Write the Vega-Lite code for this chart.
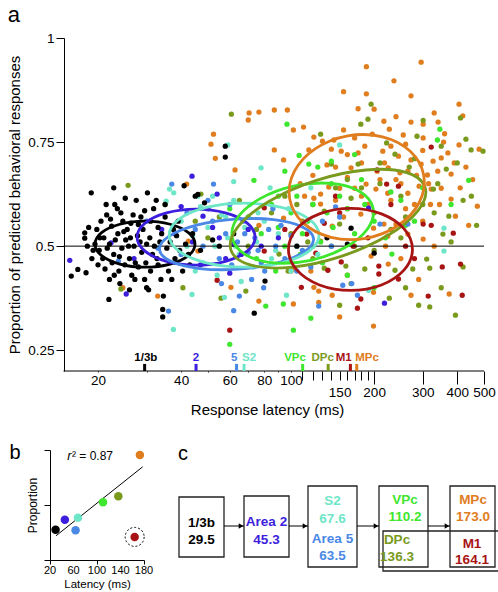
{
"$schema":"https://vega.github.io/schema/vega-lite/v6.json",
"padding":{"left":7,"top":4,"right":0,"bottom":0},
"background":"white",
"config":{"view":{"stroke":null},"font":"Liberation Sans","axis":{"domainColor":"#000","tickColor":"#000","labelColor":"#000","titleColor":"#000","grid":false,"titleFontWeight":"normal","labelOverlap":false},"title":{"color":"#000"}},
"datasets":{
"pts":[
{"g":"MPc","x":187.5,"y":0.931},{"g":"MPc","x":296,"y":0.942},{"g":"MPc","x":236,"y":0.897},{"g":"MPc","x":155,"y":0.871},{"g":"MPc","x":187.5,"y":0.866},{"g":"MPc","x":272,"y":0.861},{"g":"MPc","x":406,"y":0.841},{"g":"MPc","x":419,"y":0.813},{"g":"MPc","x":76.5,"y":0.822},{"g":"MPc","x":87,"y":0.827},{"g":"MPc","x":97,"y":0.827},{"g":"MPc","x":175,"y":0.83},{"g":"MPc","x":200,"y":0.829},{"g":"MPc","x":240,"y":0.811},{"g":"MPc","x":272,"y":0.798},{"g":"MPc","x":301,"y":0.793},{"g":"MPc","x":341,"y":0.798},{"g":"MPc","x":217,"y":0.8},{"g":"MPc","x":111,"y":0.786},{"g":"MPc","x":102,"y":0.779},{"g":"MPc","x":121,"y":0.762},{"g":"MPc","x":130,"y":0.752},{"g":"MPc","x":143,"y":0.755},{"g":"MPc","x":155,"y":0.779},{"g":"MPc","x":170,"y":0.76},{"g":"MPc","x":197,"y":0.769},{"g":"MPc","x":227,"y":0.781},{"g":"MPc","x":255,"y":0.767},{"g":"MPc","x":301,"y":0.76},{"g":"MPc","x":357,"y":0.75},{"g":"MPc","x":406,"y":0.743},{"g":"MPc","x":480,"y":0.733},{"g":"MPc","x":87,"y":0.731},{"g":"MPc","x":94,"y":0.707},{"g":"MPc","x":116,"y":0.731},{"g":"MPc","x":140,"y":0.733},{"g":"MPc","x":152,"y":0.728},{"g":"MPc","x":175,"y":0.724},{"g":"MPc","x":215,"y":0.728},{"g":"MPc","x":245,"y":0.716},{"g":"MPc","x":272,"y":0.707},{"g":"MPc","x":296,"y":0.697},{"g":"MPc","x":327,"y":0.704},{"g":"MPc","x":350,"y":0.712},{"g":"MPc","x":370,"y":0.724},{"g":"MPc","x":135,"y":0.695},{"g":"MPc","x":165,"y":0.688},{"g":"MPc","x":218,"y":0.7},{"g":"MPc","x":225,"y":0.688},{"g":"MPc","x":248,"y":0.676},{"g":"MPc","x":265,"y":0.68},{"g":"MPc","x":312,"y":0.671},{"g":"MPc","x":340,"y":0.68},{"g":"MPc","x":380,"y":0.673},{"g":"MPc","x":137,"y":0.642},{"g":"MPc","x":150,"y":0.639},{"g":"MPc","x":170,"y":0.639},{"g":"MPc","x":187,"y":0.649},{"g":"MPc","x":203,"y":0.637},{"g":"MPc","x":224,"y":0.627},{"g":"MPc","x":265,"y":0.627},{"g":"MPc","x":291,"y":0.644},{"g":"MPc","x":322,"y":0.637},{"g":"MPc","x":350,"y":0.639},{"g":"MPc","x":112,"y":0.62},{"g":"MPc","x":128,"y":0.625},{"g":"MPc","x":121,"y":0.615},{"g":"MPc","x":128,"y":0.601},{"g":"MPc","x":141,"y":0.548},{"g":"MPc","x":179,"y":0.577},{"g":"MPc","x":199,"y":0.543},{"g":"MPc","x":217,"y":0.553},{"g":"MPc","x":240,"y":0.553},{"g":"MPc","x":224,"y":0.524},{"g":"MPc","x":265,"y":0.529},{"g":"MPc","x":301,"y":0.517},{"g":"MPc","x":380,"y":0.613},{"g":"MPc","x":394,"y":0.572},{"g":"MPc","x":473,"y":0.596},{"g":"MPc","x":76.5,"y":0.368},{"g":"MPc","x":102,"y":0.361},{"g":"MPc","x":126,"y":0.365},{"g":"MPc","x":141,"y":0.382},{"g":"MPc","x":126,"y":0.392},{"g":"MPc","x":121,"y":0.401},{"g":"MPc","x":199,"y":0.389},{"g":"MPc","x":199,"y":0.308},{"g":"MPc","x":272,"y":0.382},{"g":"MPc","x":374,"y":0.385},{"g":"MPc","x":225,"y":0.457},{"g":"MPc","x":118,"y":0.44},{"g":"MPc","x":100,"y":0.44},{"g":"MPc","x":76.5,"y":0.55},{"g":"MPc","x":94,"y":0.567},{"g":"MPc","x":102,"y":0.445},{"g":"MPc","x":128,"y":0.512},{"g":"MPc","x":195,"y":0.476},{"g":"MPc","x":24.6,"y":0.4},{"g":"MPc","x":32.9,"y":0.38},{"g":"MPc","x":41.9,"y":0.649},{"g":"MPc","x":46,"y":0.488},{"g":"MPc","x":60.6,"y":0.401},{"g":"MPc","x":51.3,"y":0.745},{"g":"MPc","x":52.4,"y":0.769},{"g":"MPc","x":53.2,"y":0.711},{"g":"MPc","x":62.7,"y":0.683},{"g":"MPc","x":70,"y":0.803},{"g":"MPc","x":70.5,"y":0.82},{"g":"MPc","x":42.5,"y":0.512},{"g":"MPc","x":160,"y":0.665},{"g":"MPc","x":180,"y":0.7},{"g":"MPc","x":210,"y":0.66},{"g":"MPc","x":230,"y":0.61},{"g":"MPc","x":250,"y":0.65},{"g":"MPc","x":190,"y":0.6},{"g":"MPc","x":160,"y":0.59},{"g":"MPc","x":145,"y":0.61},{"g":"MPc","x":280,"y":0.6},{"g":"MPc","x":320,"y":0.6},
{"g":"MPc","x":330,"y":0.82},{"g":"MPc","x":360,"y":0.77},{"g":"MPc","x":390,"y":0.7},{"g":"MPc","x":430,"y":0.69},{"g":"MPc","x":455,"y":0.66},{"g":"MPc","x":410,"y":0.64},{"g":"MPc","x":300,"y":0.73},{"g":"MPc","x":260,"y":0.745},{"g":"MPc","x":230,"y":0.74},{"g":"MPc","x":185,"y":0.74},{"g":"MPc","x":160,"y":0.72},{"g":"MPc","x":145,"y":0.69},{"g":"MPc","x":120,"y":0.67},{"g":"MPc","x":108,"y":0.65},{"g":"MPc","x":205,"y":0.68},{"g":"MPc","x":240,"y":0.66},{"g":"MPc","x":285,"y":0.67},{"g":"MPc","x":315,"y":0.65},{"g":"MPc","x":345,"y":0.6},{"g":"MPc","x":300,"y":0.56},{"g":"MPc","x":260,"y":0.59},{"g":"MPc","x":180,"y":0.62},{"g":"MPc","x":155,"y":0.57},{"g":"MPc","x":220,"y":0.5},{"g":"MPc","x":250,"y":0.47},{"g":"MPc","x":330,"y":0.5},{"g":"MPc","x":440,"y":0.55},{"g":"MPc","x":160,"y":0.43},{"g":"MPc","x":290,"y":0.42},{"g":"MPc","x":150,"y":0.33},
{"g":"DPc","x":60.8,"y":0.817},{"g":"DPc","x":25.7,"y":0.646},{"g":"DPc","x":47.2,"y":0.625},{"g":"DPc","x":195,"y":0.841},{"g":"DPc","x":190,"y":0.805},{"g":"DPc","x":411,"y":0.808},{"g":"DPc","x":301,"y":0.802},{"g":"DPc","x":179,"y":0.793},{"g":"DPc","x":128,"y":0.769},{"g":"DPc","x":286,"y":0.764},{"g":"DPc","x":430,"y":0.757},{"g":"DPc","x":496,"y":0.728},{"g":"DPc","x":449,"y":0.731},{"g":"DPc","x":222,"y":0.748},{"g":"DPc","x":238,"y":0.721},{"g":"DPc","x":140,"y":0.697},{"g":"DPc","x":175,"y":0.697},{"g":"DPc","x":268,"y":0.69},{"g":"DPc","x":328,"y":0.637},{"g":"DPc","x":365,"y":0.685},{"g":"DPc","x":250,"y":0.62},{"g":"DPc","x":90.5,"y":0.481},{"g":"DPc","x":97.6,"y":0.44},{"g":"DPc","x":132,"y":0.447},{"g":"DPc","x":150,"y":0.358},{"g":"DPc","x":158,"y":0.452},{"g":"DPc","x":185,"y":0.445},{"g":"DPc","x":238,"y":0.442},{"g":"DPc","x":276,"y":0.445},{"g":"DPc","x":310,"y":0.469},{"g":"DPc","x":318,"y":0.447},{"g":"DPc","x":227,"y":0.375},{"g":"DPc","x":290,"y":0.358},{"g":"DPc","x":318,"y":0.354},{"g":"DPc","x":394,"y":0.334},{"g":"DPc","x":355,"y":0.529},{"g":"DPc","x":380,"y":0.51},{"g":"DPc","x":373,"y":0.572},{"g":"DPc","x":150,"y":0.553},{"g":"DPc","x":165,"y":0.615},{"g":"DPc","x":132,"y":0.584},{"g":"DPc","x":24.2,"y":0.397},{"g":"DPc","x":40.6,"y":0.4},{"g":"DPc","x":55.8,"y":0.375},{"g":"DPc","x":68.6,"y":0.392},{"g":"DPc","x":110,"y":0.56},{"g":"DPc","x":120,"y":0.6},{"g":"DPc","x":100,"y":0.53},{"g":"DPc","x":115,"y":0.51},{"g":"DPc","x":145,"y":0.64},{"g":"DPc","x":160,"y":0.66},{"g":"DPc","x":200,"y":0.58},{"g":"DPc","x":210,"y":0.65},{"g":"DPc","x":230,"y":0.54},{"g":"DPc","x":260,"y":0.57},{"g":"DPc","x":85,"y":0.58},{"g":"DPc","x":75,"y":0.54},{"g":"DPc","x":65,"y":0.61},{"g":"DPc","x":55,"y":0.57},{"g":"DPc","x":50,"y":0.52},{"g":"DPc","x":95,"y":0.62},{"g":"DPc","x":170,"y":0.5},{"g":"DPc","x":140,"y":0.5},{"g":"DPc","x":120,"y":0.47},{"g":"DPc","x":300,"y":0.6},{"g":"DPc","x":330,"y":0.58},{"g":"DPc","x":420,"y":0.61},
{"g":"DPc","x":350,"y":0.74},{"g":"DPc","x":400,"y":0.7},{"g":"DPc","x":450,"y":0.62},{"g":"DPc","x":470,"y":0.55},{"g":"DPc","x":340,"y":0.65},{"g":"DPc","x":280,"y":0.71},{"g":"DPc","x":210,"y":0.7},{"g":"DPc","x":180,"y":0.64},{"g":"DPc","x":250,"y":0.52},{"g":"DPc","x":200,"y":0.49},{"g":"DPc","x":165,"y":0.41},{"g":"DPc","x":260,"y":0.4},{"g":"DPc","x":350,"y":0.4},{"g":"DPc","x":420,"y":0.45},{"g":"DPc","x":105,"y":0.6},{"g":"DPc","x":70,"y":0.5},{"g":"DPc","x":45,"y":0.56},{"g":"DPc","x":35,"y":0.6},
{"g":"M1","x":205,"y":0.683},{"g":"M1","x":222,"y":0.649},{"g":"M1","x":245,"y":0.644},{"g":"M1","x":322,"y":0.738},{"g":"M1","x":80,"y":0.592},{"g":"M1","x":109,"y":0.401},{"g":"M1","x":208,"y":0.452},{"g":"M1","x":208,"y":0.433},{"g":"M1","x":245,"y":0.421},{"g":"M1","x":179,"y":0.373},{"g":"M1","x":174,"y":0.351},{"g":"M1","x":314,"y":0.38},{"g":"M1","x":417,"y":0.382},{"g":"M1","x":411,"y":0.457},{"g":"M1","x":353,"y":0.45},{"g":"M1","x":387,"y":0.531},{"g":"M1","x":301,"y":0.553},{"g":"M1","x":322,"y":0.55},{"g":"M1","x":123,"y":0.483},{"g":"M1","x":136,"y":0.442},{"g":"M1","x":152,"y":0.462},{"g":"M1","x":132,"y":0.555},{"g":"M1","x":114,"y":0.529},{"g":"M1","x":168,"y":0.5},{"g":"M1","x":80,"y":0.488},{"g":"M1","x":60,"y":0.298},{"g":"M1","x":54,"y":0.418},{"g":"M1","x":150,"y":0.58},{"g":"M1","x":190,"y":0.52},{"g":"M1","x":260,"y":0.5},{"g":"M1","x":95,"y":0.54},{"g":"M1","x":145,"y":0.62},{"g":"M1","x":230,"y":0.6},{"g":"M1","x":280,"y":0.47},
{"g":"VPc","x":60,"y":0.264},{"g":"VPc","x":102,"y":0.298},{"g":"VPc","x":118,"y":0.327},{"g":"VPc","x":81,"y":0.356},{"g":"VPc","x":96.7,"y":0.793},{"g":"VPc","x":346,"y":0.781},{"g":"VPc","x":339,"y":0.755},{"g":"VPc","x":107,"y":0.718},{"g":"VPc","x":116,"y":0.697},{"g":"VPc","x":140,"y":0.704},{"g":"VPc","x":440,"y":0.658},{"g":"VPc","x":73.4,"y":0.658},{"g":"VPc","x":93.8,"y":0.361},{"g":"VPc","x":232,"y":0.481},{"g":"VPc","x":70,"y":0.57},{"g":"VPc","x":78,"y":0.53},{"g":"VPc","x":85,"y":0.6},{"g":"VPc","x":90,"y":0.545},{"g":"VPc","x":95,"y":0.5},{"g":"VPc","x":100,"y":0.58},{"g":"VPc","x":105,"y":0.62},{"g":"VPc","x":110,"y":0.53},{"g":"VPc","x":115,"y":0.56},{"g":"VPc","x":120,"y":0.6},{"g":"VPc","x":128,"y":0.51},{"g":"VPc","x":135,"y":0.58},{"g":"VPc","x":142,"y":0.545},{"g":"VPc","x":150,"y":0.62},{"g":"VPc","x":160,"y":0.59},{"g":"VPc","x":170,"y":0.53},{"g":"VPc","x":185,"y":0.6},{"g":"VPc","x":200,"y":0.56},{"g":"VPc","x":220,"y":0.52},{"g":"VPc","x":250,"y":0.61},{"g":"VPc","x":280,"y":0.56},{"g":"VPc","x":300,"y":0.64},{"g":"VPc","x":65,"y":0.48},{"g":"VPc","x":75,"y":0.47},{"g":"VPc","x":88,"y":0.44},{"g":"VPc","x":130,"y":0.46},{"g":"VPc","x":160,"y":0.43},{"g":"VPc","x":200,"y":0.4},{"g":"VPc","x":140,"y":0.65},{"g":"VPc","x":60,"y":0.59},{"g":"VPc","x":108,"y":0.48},{"g":"VPc","x":125,"y":0.69},{"g":"VPc","x":180,"y":0.66},{"g":"VPc","x":230,"y":0.63},{"g":"VPc","x":260,"y":0.55},{"g":"VPc","x":90,"y":0.62},{"g":"VPc","x":120,"y":0.5},{"g":"VPc","x":95,"y":0.68},{"g":"VPc","x":380,"y":0.6},{"g":"VPc","x":170,"y":0.72},
{"g":"S2","x":59,"y":0.743},{"g":"S2","x":36.3,"y":0.637},{"g":"S2","x":37.6,"y":0.628},{"g":"S2","x":37.5,"y":0.3},{"g":"S2","x":43.8,"y":0.384},{"g":"S2","x":57.4,"y":0.377},{"g":"S2","x":35.3,"y":0.608},{"g":"S2","x":96.3,"y":0.382},{"g":"S2","x":358,"y":0.543},{"g":"S2","x":358,"y":0.488},{"g":"S2","x":191,"y":0.394},{"g":"S2","x":77.9,"y":0.688},{"g":"S2","x":118,"y":0.64},{"g":"S2","x":150,"y":0.743},{"g":"S2","x":40,"y":0.56},{"g":"S2","x":44,"y":0.525},{"g":"S2","x":47,"y":0.595},{"g":"S2","x":50,"y":0.545},{"g":"S2","x":53,"y":0.5},{"g":"S2","x":56,"y":0.575},{"g":"S2","x":59,"y":0.52},{"g":"S2","x":62,"y":0.61},{"g":"S2","x":65,"y":0.48},{"g":"S2","x":68,"y":0.545},{"g":"S2","x":71,"y":0.6},{"g":"S2","x":75,"y":0.51},{"g":"S2","x":80,"y":0.56},{"g":"S2","x":85,"y":0.47},{"g":"S2","x":90,"y":0.53},{"g":"S2","x":98,"y":0.59},{"g":"S2","x":105,"y":0.5},{"g":"S2","x":112,"y":0.555},{"g":"S2","x":125,"y":0.48},{"g":"S2","x":48,"y":0.46},{"g":"S2","x":54,"y":0.43},{"g":"S2","x":66,"y":0.415},{"g":"S2","x":73,"y":0.45},{"g":"S2","x":62,"y":0.655},{"g":"S2","x":84,"y":0.64},{"g":"S2","x":42,"y":0.5},{"g":"S2","x":46,"y":0.62},{"g":"S2","x":100,"y":0.44},{"g":"S2","x":58,"y":0.57},{"g":"S2","x":76,"y":0.58},{"g":"S2","x":52,"y":0.62},{"g":"S2","x":88,"y":0.49},{"g":"S2","x":63,"y":0.5},{"g":"S2","x":45,"y":0.44},
{"g":"Area 5","x":37,"y":0.649},{"g":"Area 5","x":52.4,"y":0.649},{"g":"Area 5","x":145,"y":0.594},{"g":"Area 5","x":150,"y":0.57},{"g":"Area 5","x":166,"y":0.41},{"g":"Area 5","x":154,"y":0.406},{"g":"Area 5","x":126,"y":0.356},{"g":"Area 5","x":79.6,"y":0.4},{"g":"Area 5","x":80.3,"y":0.44},{"g":"Area 5","x":174,"y":0.382},{"g":"Area 5","x":210,"y":0.553},{"g":"Area 5","x":265,"y":0.553},{"g":"Area 5","x":36,"y":0.344},{"g":"Area 5","x":23.7,"y":0.464},{"g":"Area 5","x":45,"y":0.54},{"g":"Area 5","x":48,"y":0.5},{"g":"Area 5","x":55,"y":0.47},{"g":"Area 5","x":58,"y":0.53},{"g":"Area 5","x":61,"y":0.455},{"g":"Area 5","x":64,"y":0.51},{"g":"Area 5","x":67,"y":0.56},{"g":"Area 5","x":70,"y":0.485},{"g":"Area 5","x":74,"y":0.52},{"g":"Area 5","x":78,"y":0.46},{"g":"Area 5","x":83,"y":0.54},{"g":"Area 5","x":88,"y":0.5},{"g":"Area 5","x":95,"y":0.47},{"g":"Area 5","x":100,"y":0.525},{"g":"Area 5","x":110,"y":0.49},{"g":"Area 5","x":118,"y":0.45},{"g":"Area 5","x":40,"y":0.48},{"g":"Area 5","x":42,"y":0.58},{"g":"Area 5","x":50,"y":0.61},{"g":"Area 5","x":60,"y":0.6},{"g":"Area 5","x":56,"y":0.41},{"g":"Area 5","x":65,"y":0.38},{"g":"Area 5","x":72,"y":0.42},{"g":"Area 5","x":86,"y":0.59},{"g":"Area 5","x":30,"y":0.56},{"g":"Area 5","x":33,"y":0.495},{"g":"Area 5","x":130,"y":0.56},{"g":"Area 5","x":62,"y":0.345},{"g":"Area 5","x":52,"y":0.56},{"g":"Area 5","x":68,"y":0.53},{"g":"Area 5","x":92,"y":0.55},{"g":"Area 5","x":105,"y":0.44},{"g":"Area 5","x":76,"y":0.49},{"g":"Area 5","x":140,"y":0.5},
{"g":"Area 2","x":43.8,"y":0.668},{"g":"Area 2","x":15.8,"y":0.466},{"g":"Area 2","x":25.3,"y":0.385},{"g":"Area 2","x":22.3,"y":0.508},{"g":"Area 2","x":40,"y":0.595},{"g":"Area 2","x":48,"y":0.572},{"g":"Area 2","x":52,"y":0.545},{"g":"Area 2","x":55,"y":0.52},{"g":"Area 2","x":58,"y":0.47},{"g":"Area 2","x":62,"y":0.505},{"g":"Area 2","x":66,"y":0.48},{"g":"Area 2","x":70,"y":0.54},{"g":"Area 2","x":44,"y":0.51},{"g":"Area 2","x":47,"y":0.455},{"g":"Area 2","x":50,"y":0.59},{"g":"Area 2","x":38,"y":0.53},{"g":"Area 2","x":78,"y":0.5},{"g":"Area 2","x":90,"y":0.52},{"g":"Area 2","x":218,"y":0.363},{"g":"Area 2","x":191,"y":0.591},{"g":"Area 2","x":60,"y":0.435},{"g":"Area 2","x":34,"y":0.54},{"g":"Area 2","x":27,"y":0.47},{"g":"Area 2","x":54,"y":0.625},
{"g":"1/3b","x":18.9,"y":0.628},{"g":"1/3b","x":22.8,"y":0.64},{"g":"1/3b","x":30.2,"y":0.628},{"g":"1/3b","x":46,"y":0.624},{"g":"1/3b","x":48.6,"y":0.604},{"g":"1/3b","x":57.8,"y":0.714},{"g":"1/3b","x":57.8,"y":0.74},{"g":"1/3b","x":17.9,"y":0.532},{"g":"1/3b","x":17.9,"y":0.519},{"g":"1/3b","x":16,"y":0.428},{"g":"1/3b","x":16.9,"y":0.444},{"g":"1/3b","x":18.1,"y":0.436},{"g":"1/3b","x":21.9,"y":0.372},{"g":"1/3b","x":34.3,"y":0.348},{"g":"1/3b","x":34.3,"y":0.33},{"g":"1/3b","x":34.5,"y":0.38},{"g":"1/3b","x":41,"y":0.645},{"g":"1/3b","x":45,"y":0.62},{"g":"1/3b","x":32.5,"y":0.61},{"g":"1/3b","x":20.5,"y":0.56},{"g":"1/3b","x":21.5,"y":0.575},{"g":"1/3b","x":22.4,"y":0.548},{"g":"1/3b","x":23.5,"y":0.59},{"g":"1/3b","x":24.6,"y":0.56},{"g":"1/3b","x":25.5,"y":0.54},{"g":"1/3b","x":26.8,"y":0.575},{"g":"1/3b","x":28,"y":0.552},{"g":"1/3b","x":29.5,"y":0.585},{"g":"1/3b","x":31,"y":0.56},{"g":"1/3b","x":33,"y":0.545},{"g":"1/3b","x":35,"y":0.57},{"g":"1/3b","x":37.5,"y":0.54},{"g":"1/3b","x":39,"y":0.56},{"g":"1/3b","x":19.5,"y":0.505},{"g":"1/3b","x":20.2,"y":0.49},{"g":"1/3b","x":21,"y":0.52},{"g":"1/3b","x":22,"y":0.505},{"g":"1/3b","x":22.8,"y":0.48},{"g":"1/3b","x":23.6,"y":0.53},{"g":"1/3b","x":24.4,"y":0.495},{"g":"1/3b","x":25.2,"y":0.515},{"g":"1/3b","x":26,"y":0.47},{"g":"1/3b","x":27,"y":0.5},{"g":"1/3b","x":27.8,"y":0.525},{"g":"1/3b","x":28.8,"y":0.485},{"g":"1/3b","x":30,"y":0.505},{"g":"1/3b","x":31.5,"y":0.48},{"g":"1/3b","x":33.5,"y":0.51},{"g":"1/3b","x":35.5,"y":0.495},{"g":"1/3b","x":38,"y":0.47},{"g":"1/3b","x":41.5,"y":0.505},{"g":"1/3b","x":44,"y":0.53},{"g":"1/3b","x":19,"y":0.47},{"g":"1/3b","x":20,"y":0.455},{"g":"1/3b","x":21.2,"y":0.445},{"g":"1/3b","x":22.5,"y":0.46},{"g":"1/3b","x":23.8,"y":0.44},{"g":"1/3b","x":25,"y":0.455},{"g":"1/3b","x":26.5,"y":0.43},{"g":"1/3b","x":28,"y":0.45},{"g":"1/3b","x":29.5,"y":0.42},{"g":"1/3b","x":31,"y":0.44},{"g":"1/3b","x":33,"y":0.455},{"g":"1/3b","x":36,"y":0.44},{"g":"1/3b","x":24,"y":0.41},{"g":"1/3b","x":26,"y":0.395},{"g":"1/3b","x":22,"y":0.42},{"g":"1/3b","x":30,"y":0.4},{"g":"1/3b","x":30.5,"y":0.395},{"g":"1/3b","x":37,"y":0.42},{"g":"1/3b","x":43,"y":0.455},{"g":"1/3b","x":47,"y":0.49},{"g":"1/3b","x":52,"y":0.515},{"g":"1/3b","x":23,"y":0.6},{"g":"1/3b","x":27.5,"y":0.61},{"g":"1/3b","x":18.5,"y":0.545},{"g":"1/3b","x":73.6,"y":0.339},{"g":"1/3b","x":80.5,"y":0.416},{"g":"1/3b","x":165,"y":0.543},{"g":"1/3b","x":200,"y":0.483},{"g":"1/3b","x":160,"y":0.505},{"g":"1/3b","x":135,"y":0.52},{"g":"1/3b","x":105,"y":0.5},{"g":"1/3b","x":62,"y":0.53},{"g":"1/3b","x":55,"y":0.5},
{"g":"1/3b","x":19.8,"y":0.54},{"g":"1/3b","x":20.8,"y":0.47},{"g":"1/3b","x":21.6,"y":0.495},{"g":"1/3b","x":22.2,"y":0.565},{"g":"1/3b","x":23.1,"y":0.515},{"g":"1/3b","x":23.9,"y":0.475},{"g":"1/3b","x":24.8,"y":0.535},{"g":"1/3b","x":25.8,"y":0.5},{"g":"1/3b","x":26.3,"y":0.555},{"g":"1/3b","x":27.3,"y":0.46},{"g":"1/3b","x":28.4,"y":0.51},{"g":"1/3b","x":29.1,"y":0.54},{"g":"1/3b","x":30.8,"y":0.52},{"g":"1/3b","x":32,"y":0.5},{"g":"1/3b","x":32.7,"y":0.47},{"g":"1/3b","x":34,"y":0.53},{"g":"1/3b","x":36.5,"y":0.51},{"g":"1/3b","x":39.5,"y":0.49},{"g":"1/3b","x":21.4,"y":0.6},{"g":"1/3b","x":25.1,"y":0.615},{"g":"1/3b","x":19.2,"y":0.49},{"g":"1/3b","x":20.3,"y":0.52},{"g":"1/3b","x":18.3,"y":0.5},{"g":"1/3b","x":24.2,"y":0.58},{"g":"1/3b","x":28.6,"y":0.57},{"g":"1/3b","x":22.9,"y":0.43},{"g":"1/3b","x":27.2,"y":0.42},{"g":"1/3b","x":33.8,"y":0.42},{"g":"1/3b","x":40.5,"y":0.44},{"g":"1/3b","x":35,"y":0.6},{"g":"1/3b","x":31.8,"y":0.59},{"g":"1/3b","x":26.2,"y":0.52},{"g":"1/3b","x":29.8,"y":0.46},{"g":"1/3b","x":38.5,"y":0.525},{"g":"1/3b","x":42.5,"y":0.48}
],
"ell":[
{"g":"1/3b","i":0,"x":44.9,"y":0.5048},{"g":"1/3b","i":1,"x":42.5,"y":0.5325},{"g":"1/3b","i":2,"x":36.5,"y":0.5526},{"g":"1/3b","i":3,"x":29.6,"y":0.5601},{"g":"1/3b","i":4,"x":24.0,"y":0.5526},{"g":"1/3b","i":5,"x":20.6,"y":0.5325},{"g":"1/3b","i":6,"x":19.5,"y":0.5048},{"g":"1/3b","i":7,"x":20.6,"y":0.4772},{"g":"1/3b","i":8,"x":24.0,"y":0.457},{"g":"1/3b","i":9,"x":29.6,"y":0.4495},{"g":"1/3b","i":10,"x":36.5,"y":0.457},{"g":"1/3b","i":11,"x":42.5,"y":0.4772},
{"g":"Area 2","i":0,"x":74.1,"y":0.5216},{"g":"Area 2","i":1,"x":69.4,"y":0.5553},{"g":"Area 2","i":2,"x":57.9,"y":0.5798},{"g":"Area 2","i":3,"x":45.3,"y":0.5889},{"g":"Area 2","i":4,"x":35.4,"y":0.5798},{"g":"Area 2","i":5,"x":29.6,"y":0.5553},{"g":"Area 2","i":6,"x":27.7,"y":0.5216},{"g":"Area 2","i":7,"x":29.6,"y":0.488},{"g":"Area 2","i":8,"x":35.4,"y":0.4635},{"g":"Area 2","i":9,"x":45.3,"y":0.4543},{"g":"Area 2","i":10,"x":57.9,"y":0.4635},{"g":"Area 2","i":11,"x":69.4,"y":0.488},
{"g":"Area 5","i":0,"x":120.7,"y":0.5178},{"g":"Area 5","i":1,"x":109.9,"y":0.5462},{"g":"Area 5","i":2,"x":86.4,"y":0.5635},{"g":"Area 5","i":3,"x":62.6,"y":0.5649},{"g":"Area 5","i":4,"x":45.5,"y":0.5505},{"g":"Area 5","i":5,"x":36.1,"y":0.5236},{"g":"Area 5","i":6,"x":33.4,"y":0.4918},{"g":"Area 5","i":7,"x":36.7,"y":0.4635},{"g":"Area 5","i":8,"x":46.6,"y":0.4462},{"g":"Area 5","i":9,"x":64.4,"y":0.4447},{"g":"Area 5","i":10,"x":88.6,"y":0.4591},{"g":"Area 5","i":11,"x":111.6,"y":0.4861},
{"g":"S2","i":0,"x":126.3,"y":0.5264},{"g":"S2","i":1,"x":116.2,"y":0.5649},{"g":"S2","i":2,"x":92.4,"y":0.593},{"g":"S2","i":3,"x":67.6,"y":0.6034},{"g":"S2","i":4,"x":49.4,"y":0.593},{"g":"S2","i":5,"x":39.3,"y":0.5649},{"g":"S2","i":6,"x":36.2,"y":0.5264},{"g":"S2","i":7,"x":39.3,"y":0.488},{"g":"S2","i":8,"x":49.4,"y":0.4599},{"g":"S2","i":9,"x":67.6,"y":0.4495},{"g":"S2","i":10,"x":92.4,"y":0.4599},{"g":"S2","i":11,"x":116.2,"y":0.488},
{"g":"VPc","i":0,"x":198.2,"y":0.5913},{"g":"VPc","i":1,"x":177.3,"y":0.6313},{"g":"VPc","i":2,"x":139.6,"y":0.6507},{"g":"VPc","i":3,"x":103.2,"y":0.6447},{"g":"VPc","i":4,"x":77.6,"y":0.6147},{"g":"VPc","i":5,"x":64.1,"y":0.5688},{"g":"VPc","i":6,"x":61.3,"y":0.5192},{"g":"VPc","i":7,"x":68.5,"y":0.4793},{"g":"VPc","i":8,"x":86.9,"y":0.4599},{"g":"VPc","i":9,"x":117.7,"y":0.4659},{"g":"VPc","i":10,"x":156.4,"y":0.4959},{"g":"VPc","i":11,"x":189.5,"y":0.5418},
{"g":"DPc","i":0,"x":305.8,"y":0.6418},{"g":"DPc","i":1,"x":260.6,"y":0.6774},{"g":"DPc","i":2,"x":186.7,"y":0.6829},{"g":"DPc","i":3,"x":122.8,"y":0.6575},{"g":"DPc","i":4,"x":83.1,"y":0.6072},{"g":"DPc","i":5,"x":64.2,"y":0.5462},{"g":"DPc","i":6,"x":60.6,"y":0.4904},{"g":"DPc","i":7,"x":71.2,"y":0.4548},{"g":"DPc","i":8,"x":99.4,"y":0.449},{"g":"DPc","i":9,"x":151.0,"y":0.4748},{"g":"DPc","i":10,"x":223.1,"y":0.5248},{"g":"DPc","i":11,"x":289.0,"y":0.5861},
{"g":"MPc","i":0,"x":302.5,"y":0.6702},{"g":"MPc","i":1,"x":270.3,"y":0.7279},{"g":"MPc","i":2,"x":214.4,"y":0.7625},{"g":"MPc","i":3,"x":160.5,"y":0.7649},{"g":"MPc","i":4,"x":122.6,"y":0.7341},{"g":"MPc","i":5,"x":102.7,"y":0.6788},{"g":"MPc","i":6,"x":98.9,"y":0.6135},{"g":"MPc","i":7,"x":110.7,"y":0.5558},{"g":"MPc","i":8,"x":139.6,"y":0.5212},{"g":"MPc","i":9,"x":186.5,"y":0.5188},{"g":"MPc","i":10,"x":244.1,"y":0.5495},{"g":"MPc","i":11,"x":291.4,"y":0.6048},
{"g":"M1","i":0,"x":275.3,"y":0.4921},{"g":"M1","i":1,"x":256.9,"y":0.5413},{"g":"M1","i":2,"x":212.6,"y":0.5774},{"g":"M1","i":3,"x":164.2,"y":0.5906},{"g":"M1","i":4,"x":126.8,"y":0.5774},{"g":"M1","i":5,"x":104.9,"y":0.5413},{"g":"M1","i":6,"x":97.9,"y":0.4921},{"g":"M1","i":7,"x":104.9,"y":0.4428},{"g":"M1","i":8,"x":126.8,"y":0.4067},{"g":"M1","i":9,"x":164.2,"y":0.3935},{"g":"M1","i":10,"x":212.6,"y":0.4067},{"g":"M1","i":11,"x":256.9,"y":0.4428}
],
"mk":[
{"g":"1/3b","x":29.5,"lx":29.8,"t":"1/3b"},{"g":"Area 2","x":45.3,"lx":45.3,"t":"2"},{"g":"Area 5","x":63.5,"lx":62.3,"t":"5"},{"g":"S2","x":67.6,"lx":70.5,"t":"S2"},{"g":"VPc","x":110.2,"lx":103.4,"t":"VPc"},{"g":"DPc","x":136.3,"lx":130.3,"t":"DPc"},{"g":"M1","x":164.1,"lx":155.2,"t":"M1"},{"g":"MPc","x":173.0,"lx":188.5,"t":"MPc"}
],
"bpts":[
{"g":"1/3b","x":29.5,"y":0.505},{"g":"Area 2","x":45.3,"y":0.523},{"g":"Area 5","x":63.5,"y":0.504},{"g":"S2","x":67.6,"y":0.527},{"g":"VPc","x":110.2,"y":0.555},{"g":"DPc","x":136.3,"y":0.566},{"g":"M1","x":164.1,"y":0.492},{"g":"MPc","x":173.0,"y":0.641}
],
"bticks":[{"v":20},{"v":60},{"v":100},{"v":140},{"v":180}],
"breg":[{"x":30.2,"y":0.494},{"x":177.8,"y":0.6195}],
"boxes":[{"x":1,"x2":46,"y":47,"y2":107},{"x":66,"x2":111,"y":46,"y2":107},{"x":130,"x2":179,"y":36,"y2":117},{"x":201,"x2":250,"y":36,"y2":117},{"x":205,"x2":321,"y":81,"y2":121},{"x":272,"x2":317,"y":36,"y2":117}],
"arrows":[{"x":46,"x2":66,"y":76},{"x":111,"x2":130,"y":76},{"x":179,"x2":201,"y":76},{"x":250,"x2":272,"y":76}],
"ctext":[
{"t":"1/3b","g":"1/3b","x":23.5,"y":73},{"t":"29.5","g":"1/3b","x":23.5,"y":90},
{"t":"Area 2","g":"Area 2","x":88.5,"y":72.3},{"t":"45.3","g":"Area 2","x":88.5,"y":89.7},
{"t":"S2","g":"S2","x":154.5,"y":51.3},{"t":"67.6","g":"S2","x":154.5,"y":69},
{"t":"Area 5","g":"Area 5","x":154.5,"y":89},{"t":"63.5","g":"Area 5","x":154.5,"y":106.3},
{"t":"VPc","g":"VPc","x":227,"y":50.3},{"t":"110.2","g":"VPc","x":227,"y":67.3},
{"t":"DPc","g":"DPc","x":219,"y":89.7},{"t":"136.3","g":"DPc","x":219,"y":107.3},
{"t":"MPc","g":"MPc","x":295,"y":50.3},{"t":"173.0","g":"MPc","x":295,"y":67.3},
{"t":"M1","g":"M1","x":294,"y":94},{"t":"164.1","g":"M1","x":294,"y":109.7}
]
},
"spacing":24,
"vconcat":[
{
"width":434,"height":333,
"title":{"text":"a","anchor":"start","frame":"bounds","fontSize":22,"fontWeight":"normal","offset":4},
"layer":[
{"data":{"name":"pts"},"mark":{"type":"circle","size":28,"opacity":1},
"encoding":{
"x":{"field":"x","type":"quantitative","scale":{"type":"log","domain":[13.4,500],"nice":false},
"axis":{"values":[20,25,30,35,40,45,50,55,60,65,70,75,80,85,90,95,100,110,120,130,140,150,160,170,180,190,200,300,400,500],"format":"d",
"labelExpr":"indexof([20,40,60,80,100,150,200,300,400,500], datum.value) >= 0 ? datum.label : ''",
"labelFontSize":13.5,"labelFlush":false,"labelOverlap":false,"labelBound":false,"domain":false,
"tickSize":{"condition":{"test":"datum.value <= 100 ? datum.value % 10 == 0 : datum.value % 100 == 0","value":13},"value":9},
"labelPadding":{"condition":{"test":"datum.value <= 100 ? datum.value % 10 == 0 : datum.value % 100 == 0","value":1},"value":5},
"title":"Response latency (ms)","titleFontSize":15,"titlePadding":4}},
"y":{"field":"y","type":"quantitative","scale":{"domain":[0.2,1],"nice":false,"zero":false},
"axis":{"values":[0.25,0.5,0.75,1],"format":".2~f","labelFontSize":13.5,"tickSize":8,"labelPadding":2,"offset":-14,
"title":"Proportion of predicted behavioral responses","titleFontSize":15,"titlePadding":5}},
"color":{"field":"g","type":"nominal","scale":{"domain":["1/3b","Area 2","Area 5","S2","VPc","DPc","M1","MPc"],"range":["#000000","#3c1edc","#4a88e6","#6ee6c8","#3ee62e","#7a9a1e","#a81414","#e07d1e"]},"legend":null}
}},
{"data":{"values":[{}]},"mark":{"type":"rule","color":"#000","strokeWidth":1},
"encoding":{"x":{"datum":15,"type":"quantitative"},"x2":{"datum":500},"y":{"datum":0.5,"type":"quantitative"}}},
{"data":{"values":[{}]},"mark":{"type":"rule","color":"#000","strokeWidth":1},
"encoding":{"x":{"datum":15,"type":"quantitative"},"x2":{"datum":500},"y":{"datum":0.2,"type":"quantitative"}}},
{"data":{"name":"ell"},"mark":{"type":"line","interpolate":"cardinal-closed","strokeWidth":2.8},
"encoding":{"x":{"field":"x","type":"quantitative"},"y":{"field":"y","type":"quantitative"},"order":{"field":"i","type":"quantitative"},
"color":{"field":"g","type":"nominal","scale":{"domain":["1/3b","Area 2","Area 5","S2","VPc","DPc","M1","MPc"],"range":["#000000","#3c1edc","#4a88e6","#6ee6c8","#3ee62e","#7a9a1e","#a81414","#e07d1e"]},"legend":null}}},
{"data":{"name":"mk"},"mark":{"type":"rule","strokeWidth":3},
"encoding":{"x":{"field":"x","type":"quantitative"},"y":{"datum":0.2,"type":"quantitative"},"y2":{"datum":0.217},
"color":{"field":"g","type":"nominal","scale":{"domain":["1/3b","Area 2","Area 5","S2","VPc","DPc","M1","MPc"],"range":["#000000","#3c1edc","#4a88e6","#6ee6c8","#3ee62e","#7a9a1e","#a81414","#e07d1e"]},"legend":null}}},
{"data":{"name":"mk"},"mark":{"type":"text","fontWeight":"bold","fontSize":11.5,"baseline":"middle","align":"center"},
"encoding":{"x":{"field":"lx","type":"quantitative"},"y":{"datum":0.232,"type":"quantitative"},"text":{"field":"t"},
"color":{"field":"g","type":"nominal","scale":{"domain":["1/3b","Area 2","Area 5","S2","VPc","DPc","M1","MPc"],"range":["#000000","#3c1edc","#4a88e6","#6ee6c8","#3ee62e","#7a9a1e","#a81414","#e07d1e"]},"legend":null}}}
]
},
{
"spacing":24,
"hconcat":[
{
"width":94,"height":110,
"layer":[
{"data":{"name":"breg"},"mark":{"type":"line","color":"#000","strokeWidth":1},
"encoding":{
"x":{"field":"x","type":"quantitative","scale":{"domain":[20,180],"nice":false,"zero":false},
"axis":{"values":[20,60,100,140,180],"labels":false,"tickSize":4,"title":"Latency (ms)","titleFontSize":11.5,"titlePadding":14}},
"y":{"field":"y","type":"quantitative","scale":{"domain":[0.45,0.65],"nice":false,"zero":false},
"axis":{"values":[0.45,0.5,0.55,0.6,0.65],"format":".1f","labelExpr":"datum.value == 0.5 || datum.value == 0.6 ? datum.label : ''","labelFontSize":13,"tickSize":6,"labelPadding":2,"title":"Proportion","titleFontSize":12,"titlePadding":3}}
}},
{"data":{"name":"bticks"},"mark":{"type":"text","fontSize":11,"baseline":"middle","align":"center","dy":11},
"encoding":{"x":{"field":"v","type":"quantitative"},"y":{"datum":0.45,"type":"quantitative"},"text":{"field":"v","type":"quantitative"}}},
{"data":{"name":"bpts"},"mark":{"type":"circle","size":72,"opacity":1},
"encoding":{"x":{"field":"x","type":"quantitative"},"y":{"field":"y","type":"quantitative"},
"color":{"field":"g","type":"nominal","scale":{"domain":["1/3b","Area 2","Area 5","S2","VPc","DPc","M1","MPc"],"range":["#000000","#3c1edc","#4a88e6","#6ee6c8","#3ee62e","#7a9a1e","#a81414","#e07d1e"]},"legend":null}}},
{"data":{"name":"bpts"},"transform":[{"filter":"datum.g == 'M1'"}],"mark":{"type":"point","shape":"circle","size":361,"filled":false,"stroke":"#000","strokeWidth":1,"strokeDash":[2,2],"opacity":1},
"encoding":{"x":{"field":"x","type":"quantitative"},"y":{"field":"y","type":"quantitative"}}},
{"data":{"values":[{}]},"mark":{"type":"text","text":"b","fontSize":20,"align":"center","baseline":"middle"},
"encoding":{"x":{"datum":-39.6,"type":"quantitative"},"y":{"datum":0.645,"type":"quantitative"}}},
{"data":{"values":[{}]},"mark":{"type":"text","text":"r","fontSize":13,"fontStyle":"italic","align":"right","baseline":"alphabetic"},
"encoding":{"x":{"datum":56.6,"type":"quantitative"},"y":{"datum":0.631,"type":"quantitative"}}},
{"data":{"values":[{}]},"mark":{"type":"text","text":"² = 0.87","fontSize":12,"align":"left","baseline":"alphabetic"},
"encoding":{"x":{"datum":57.4,"type":"quantitative"},"y":{"datum":0.631,"type":"quantitative"}}}
]
},
{
"width":322,"height":124,
"layer":[
{"data":{"name":"boxes"},"mark":{"type":"rect","filled":false,"stroke":"#222","strokeWidth":1.3},
"encoding":{"x":{"field":"x","type":"quantitative","scale":{"domain":[0,322],"nice":false,"zero":false},"axis":null},"x2":{"field":"x2"},
"y":{"field":"y","type":"quantitative","scale":{"domain":[0,124],"nice":false,"zero":false,"reverse":true},"axis":null},"y2":{"field":"y2"}}},
{"data":{"name":"arrows"},"mark":{"type":"rule","color":"#000","strokeWidth":1},
"encoding":{"x":{"field":"x","type":"quantitative"},"x2":{"field":"x2"},"y":{"field":"y","type":"quantitative"}}},
{"data":{"name":"arrows"},"mark":{"type":"point","shape":"triangle-right","filled":true,"color":"#000","size":28,"xOffset":-3,"opacity":1},
"encoding":{"x":{"field":"x2","type":"quantitative"},"y":{"field":"y","type":"quantitative"}}},
{"data":{"name":"ctext"},"mark":{"type":"text","fontSize":13.5,"fontWeight":"bold","align":"center","baseline":"middle"},
"encoding":{"x":{"field":"x","type":"quantitative"},"y":{"field":"y","type":"quantitative"},"text":{"field":"t"},
"color":{"field":"g","type":"nominal","scale":{"domain":["1/3b","Area 2","Area 5","S2","VPc","DPc","M1","MPc"],"range":["#000000","#3c1edc","#4a88e6","#6ee6c8","#3ee62e","#7a9a1e","#a81414","#e07d1e"]},"legend":null}}},
{"data":{"values":[{}]},"mark":{"type":"text","text":"c","fontSize":20,"align":"left","baseline":"alphabetic"},
"encoding":{"x":{"datum":0,"type":"quantitative"},"y":{"datum":10,"type":"quantitative"}}}
]
}
]
}
]
}
